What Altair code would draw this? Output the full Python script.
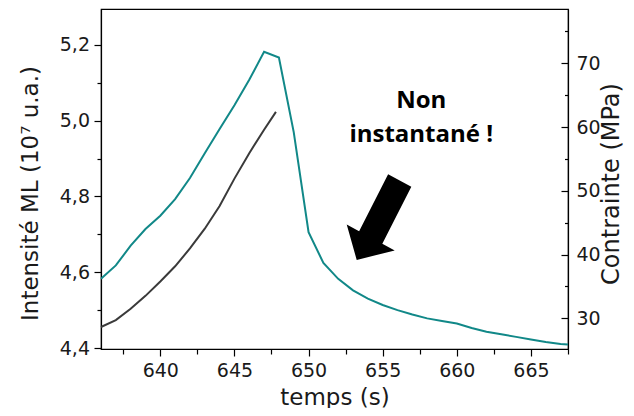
import altair as alt
import pandas as pd

# ---- data ----
black_t = [636, 637, 638, 639, 640, 641, 642, 643, 644, 645, 646, 647, 647.8]
black_v = [4.456, 4.474, 4.504, 4.538, 4.576, 4.616, 4.663, 4.715, 4.775, 4.847, 4.914, 4.976, 5.023]

teal_t = list(range(636, 668)) + [667.5]
teal_v = [36.2, 38.3, 41.4, 44.0, 46.1, 48.7, 52.0, 55.9, 59.7, 63.4, 67.4, 71.8,
          70.9, 59.2, 43.5, 38.7, 36.2, 34.4, 33.1, 32.1, 31.3, 30.6, 30.0, 29.6,
          29.2, 28.5, 27.9, 27.5, 27.1, 26.7, 26.3, 26.0, 25.9]

x_ticks = [637.5, 640, 642.5, 645, 647.5, 650, 652.5, 655, 657.5, 660, 662.5, 665, 667.5]
left_ticks = [4.4, 4.5, 4.6, 4.7, 4.8, 4.9, 5.0, 5.1, 5.2]
right_ticks = [30, 35, 40, 45, 50, 55, 60, 65, 70, 75]

x_domain = [636, 667.5]
left_domain = [4.398, 5.294]
right_domain = [25.2, 78.5]

ann_text = ["Non", "instantané !"]
ann_t = [657.6, 657.6]
ann_v = [5.032, 4.944]

arrow_t = [654.8]
arrow_v = [4.738]
ARROW = "M0.168,-0.914L0.632,-0.666L0.052,0.474L0.30,0.608L-0.46,0.80L-0.66,0.092L-0.412,0.226Z"

FONT = "DejaVu Sans"
TXT = "#1a1a1a"

black_df = pd.DataFrame({"t": black_t, "v": black_v})
teal_df = pd.DataFrame({"t": teal_t, "v": teal_v})
ann_df = pd.DataFrame({"t": ann_t, "v": ann_v, "txt": ann_text})
arrow_df = pd.DataFrame({"t": arrow_t, "v": arrow_v})

MAJOR_X = "abs(datum.value / 5 - round(datum.value / 5)) < 0.001"
x_axis = alt.Axis(
    values=x_ticks, title="temps (s)", grid=False,
    labelExpr=MAJOR_X + " ? format(datum.value, 'd') : ''",
    tickSize={"condition": {"test": MAJOR_X, "value": 7}, "value": 5},
    labelPadding=5.5, labelFont=FONT, labelFontSize=19, labelColor=TXT,
    labelOverlap=False, labelFlush=False,
    titleFont=FONT, titleFontSize=23, titleFontWeight="normal", titleColor=TXT,
    titleBaseline="alphabetic", titleY=55,
    domainColor="black", tickColor="black", domainWidth=1.2, tickWidth=1.2,
)
x_scale = alt.Scale(domain=x_domain, nice=False, zero=False)

def xenc():
    return alt.X("t:Q", scale=x_scale, axis=x_axis)

MAJOR_L = "abs(datum.value * 5 - round(datum.value * 5)) < 0.01"
left_axis = alt.Axis(
    values=left_ticks, title="Intensité ML (10⁷ u.a.)", grid=False,
    labelExpr=MAJOR_L + " ? replace(format(datum.value, '.1f'), '.', ',') : ''",
    tickSize=alt.ExprRef(expr=MAJOR_L + " ? 7 : 4"),
    labelPadding=4.5, labelFont=FONT, labelFontSize=19, labelColor=TXT,
    labelOverlap=False, labelFlush=False,
    titleFont=FONT, titleFontSize=23, titleFontWeight="normal", titleColor=TXT,
    titleAngle=270, titleBaseline="alphabetic", titleAlign="center", titleX=-64, titleY=184,
    domainColor="black", tickColor="black", domainWidth=1.2, tickWidth=1.2,
)

right_axis = alt.Axis(
    orient="right", values=right_ticks, title="Contrainte (MPa)", grid=False,
    labelExpr="datum.value % 10 == 0 ? format(datum.value, 'd') : ''",
    tickSize=alt.ExprRef(expr="datum.value % 10 == 0 ? -7 : -3.5"),
    labelPadding=15, labelFont=FONT, labelFontSize=19, labelColor=TXT,
    labelOverlap=False, labelFlush=False,
    titleFont=FONT, titleFontSize=24, titleFontWeight="normal", titleColor=TXT,
    titleAngle=270, titleBaseline="alphabetic", titleAlign="center", titleX=50, titleY=174.5,
    domainColor="black", tickColor="black", domainWidth=1.2, tickWidth=1.2,
)

left_scale = alt.Scale(domain=left_domain, nice=False, zero=False)
right_scale = alt.Scale(domain=right_domain, nice=False, zero=False)

def lenc():
    return alt.Y("v:Q", scale=left_scale, axis=left_axis)

black_line = alt.Chart(black_df).mark_line(color="#3a3a3a", strokeWidth=2).encode(
    x=xenc(), y=lenc()
)
arrow = alt.Chart(arrow_df).mark_point(
    shape=ARROW, size=10000, filled=True, color="black", opacity=1, strokeWidth=0
).encode(x=xenc(), y=lenc())
ann = alt.Chart(ann_df).mark_text(
    font="Open Sans", fontWeight="bold", fontSize=24, color="black",
    align="center", baseline="alphabetic"
).encode(x=xenc(), y=lenc(), text="txt:N")

left_layer = alt.layer(black_line, arrow, ann)

teal_line = alt.Chart(teal_df).mark_line(color="#118888", strokeWidth=2).encode(
    x=xenc(), y=alt.Y("v:Q", scale=right_scale, axis=right_axis)
)

chart = alt.layer(left_layer, teal_line).resolve_scale(y="independent").properties(
    width=467, height=340,
    padding={"left": 93, "top": 1, "right": 58, "bottom": 59},
    autosize=alt.AutoSizeParams(type="none"),
    background="white",
).configure_view(stroke="black", strokeWidth=1.2)

chart.save("out.html", embed_options={"renderer": "svg", "actions": False})
